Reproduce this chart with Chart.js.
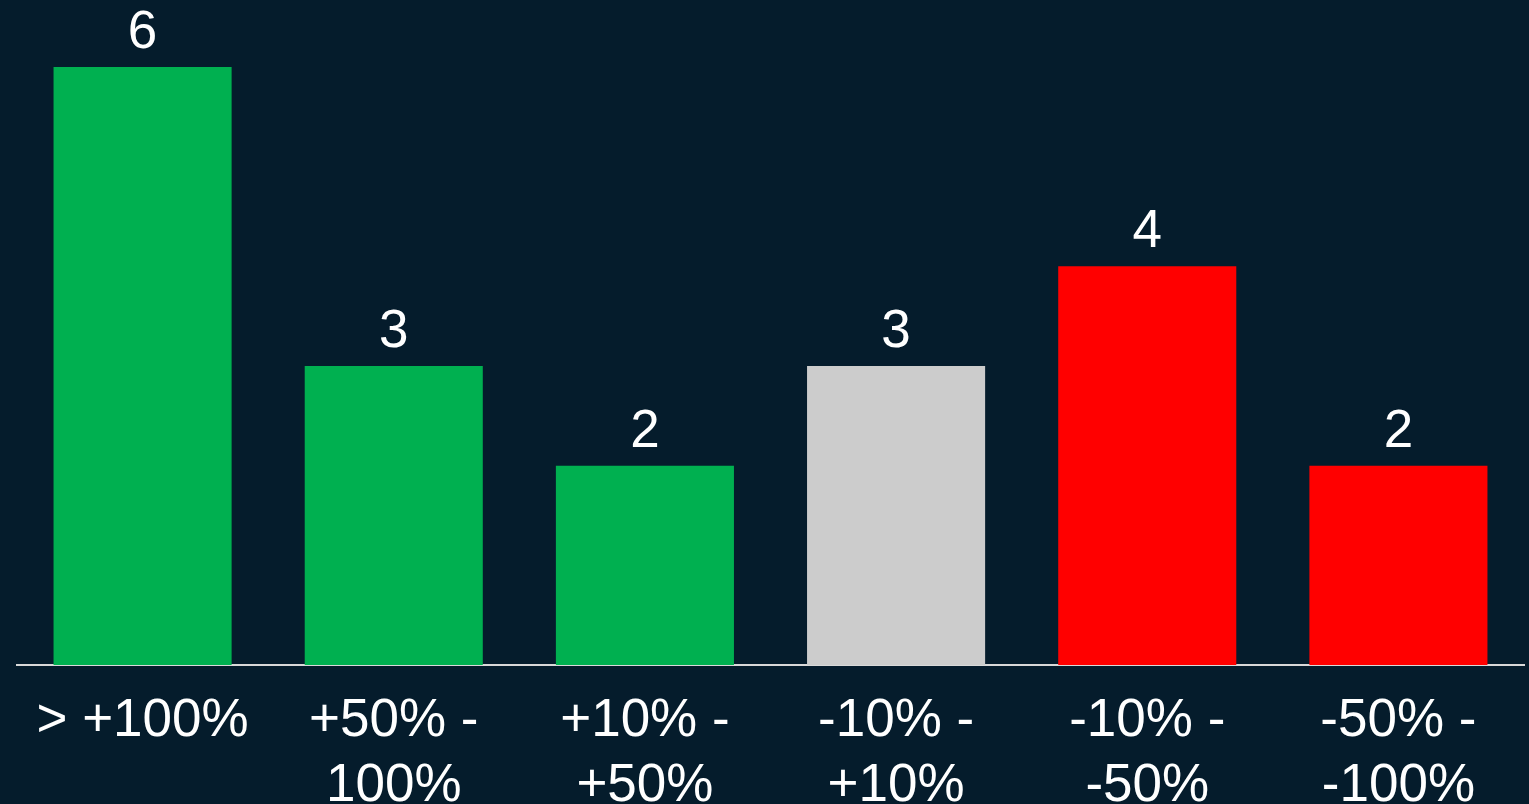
<!DOCTYPE html>
<html>
<head>
<meta charset="utf-8">
<script src="https://cdn.jsdelivr.net/npm/chart.js@4"></script>
<style>
  html, body { margin: 0; padding: 0; background: #051c2c; overflow: hidden; }
  canvas { display: block; }
</style>
</head>
<body>
<canvas id="bucketChart" width="1529" height="804"></canvas>
<script>
// Categories and counts
const categories = [
    ['> +100%'],
    ['+50% -', '100%'],
    ['+10% -', '+50%'],
    ['-10% -', '+10%'],
    ['-10% -', '-50%'],
    ['-50% -', '-100%']
];
const counts = [6, 3, 2, 3, 4, 2];
const barColors = ['#00b050', '#00b050', '#00b050', '#cccccc', '#ff0000', '#ff0000'];

const FONT = "'Liberation Sans', Arial, sans-serif";

// Draw the count above each bar
const valueLabels = {
    id: 'valueLabels',
    afterDatasetsDraw(chart) {
        const ctx = chart.ctx;
        const meta = chart.getDatasetMeta(0);
        ctx.save();
        ctx.fillStyle = '#ffffff';
        ctx.font = '53px ' + FONT;
        ctx.textAlign = 'center';
        ctx.textBaseline = 'alphabetic';
        meta.data.forEach((bar, i) => {
            ctx.fillText(String(counts[i]), bar.x, bar.y - 19);
        });
        ctx.restore();
    }
};

const ctx = document.getElementById('bucketChart');
new Chart(ctx, {
    type: 'bar',
    data: {
        labels: categories,
        datasets: [{
            data: counts,
            backgroundColor: barColors,
            borderWidth: 0,
            categoryPercentage: 1,
            barPercentage: 0.709
        }]
    },
    options: {
        responsive: false,
        animation: false,
        layout: {
            padding: { top: 67, left: 17, right: 5, bottom: 0 }
        },
        plugins: {
            legend: { display: false },
            tooltip: { enabled: false }
        },
        scales: {
            x: {
                grid: { color: 'transparent', drawTicks: false },
                border: { display: true, color: '#d9d9d9', width: 2 },
                ticks: {
                    color: '#ffffff',
                    padding: 24,
                    maxRotation: 0,
                    autoSkip: false,
                    font: { family: FONT, size: 53, lineHeight: 1.23 }
                },
                afterFit(scale) {
                    scale.height = 139;
                }
            },
            y: {
                display: false,
                min: 0,
                max: 6
            }
        }
    },
    plugins: [valueLabels]
});
</script>
</body>
</html>
